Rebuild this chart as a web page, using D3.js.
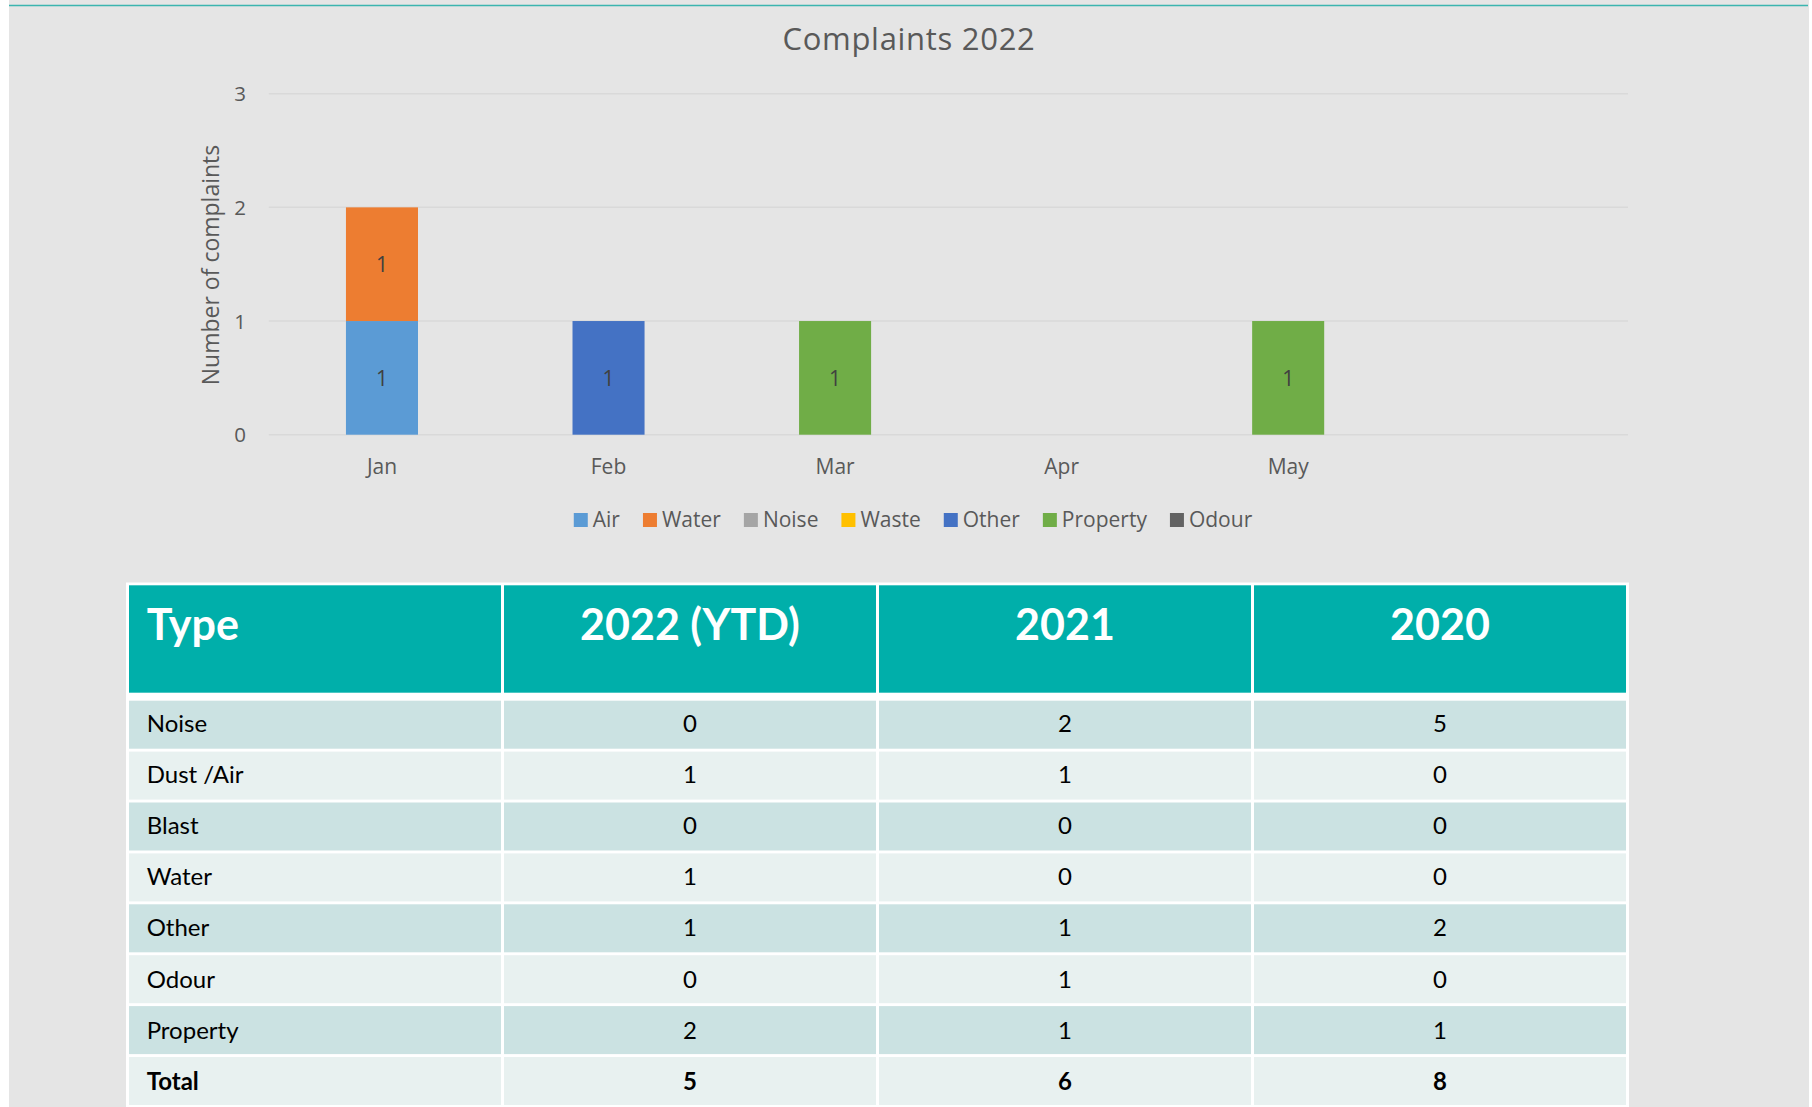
<!DOCTYPE html>
<html>
<head>
<meta charset="utf-8">
<script src="https://cdn.jsdelivr.net/npm/d3@7"></script>
<style>
  html, body { margin: 0; padding: 0; background: #fff; }
  svg { display: block; }
</style>
</head>
<body>
<div id="chart"></div>
<script>
'use strict';

// chart data
var months = ['Jan', 'Feb', 'Mar', 'Apr', 'May', ''];
var seriesNames = ['Air', 'Water', 'Noise', 'Waste', 'Other', 'Property', 'Odour'];
var seriesColors = ['#5B9BD5', '#ED7D31', '#A5A5A5', '#FFC000', '#4472C4', '#70AD47', '#636363'];
var air = [1, 0, 0, 0, 0, 0];
var water = [1, 0, 0, 0, 0, 0];
var noise = [0, 0, 0, 0, 0, 0];
var waste = [0, 0, 0, 0, 0, 0];
var other = [0, 1, 0, 0, 0, 0];
var property = [0, 0, 1, 0, 1, 0];
var odour = [0, 0, 0, 0, 0, 0];
var yTicks = [0, 1, 2, 3];

// table data
var tableHeaders = ['Type', '2022 (YTD)', '2021', '2020'];
var tableTypes = ['Noise', 'Dust /Air', 'Blast', 'Water', 'Other', 'Odour', 'Property', 'Total'];
var ytd2022 = [0, 1, 0, 1, 1, 0, 2, 5];
var year2021 = [2, 1, 0, 0, 1, 1, 1, 6];
var year2020 = [5, 0, 0, 0, 2, 0, 1, 8];

var W = 1812, H = 1107;
var CHART_FONT = '"Open Sans", "Noto Sans", sans-serif';
var TABLE_FONT = 'Lato, "Open Sans", sans-serif';
var TEXT = '#595959';

var svg = d3.select('#chart').append('svg')
    .attr('width', W)
    .attr('height', H);

// page background
svg.append('rect')
    .attr('x', 9).attr('y', 0)
    .attr('width', 1800).attr('height', H)
    .attr('fill', '#E5E5E5');

svg.append('line')
    .attr('x1', 9).attr('x2', 1808)
    .attr('y1', 5.5).attr('y2', 5.5)
    .attr('stroke', '#3BB5AF')
    .attr('stroke-width', 1.5);

// ---- chart ----
var plot = {l: 268.7, r: 1628, t: 93.7, b: 434.7};

var x = d3.scaleBand()
    .domain(d3.range(months.length))
    .range([plot.l, plot.r])
    .paddingInner(0.682)
    .paddingOuter(0.341);

var y = d3.scaleLinear()
    .domain([0, 3])
    .range([plot.b, plot.t]);

svg.append('text')
    .attr('x', 909).attr('y', 50)
    .attr('text-anchor', 'middle')
    .attr('font-family', CHART_FONT)
    .attr('font-size', 31)
    .attr('letter-spacing', 0.7)
    .attr('fill', TEXT)
    .text('Complaints 2022');

// gridlines
svg.append('g').selectAll('line')
    .data(yTicks)
    .join('line')
    .attr('x1', plot.l).attr('x2', plot.r)
    .attr('y1', function(d) { return y(d); })
    .attr('y2', function(d) { return y(d); })
    .attr('stroke', '#D9D9D9')
    .attr('stroke-width', 1.5);

// y tick labels
svg.append('g').selectAll('text')
    .data(yTicks)
    .join('text')
    .attr('x', 246)
    .attr('y', function(d) { return y(d) + 7.5; })
    .attr('text-anchor', 'end')
    .attr('font-family', CHART_FONT)
    .attr('font-size', 20.5)
    .attr('fill', TEXT)
    .text(function(d) { return d; });

svg.append('text')
    .attr('transform', 'translate(219,265) rotate(-90)')
    .attr('text-anchor', 'middle')
    .attr('font-family', CHART_FONT)
    .attr('font-size', 23)
    .attr('fill', TEXT)
    .text('Number of complaints');

// month labels
svg.append('g').selectAll('text')
    .data(months)
    .join('text')
    .attr('x', function(d, i) { return x(i) + x.bandwidth() / 2; })
    .attr('y', 473.5)
    .attr('text-anchor', 'middle')
    .attr('font-family', CHART_FONT)
    .attr('font-size', 21)
    .attr('fill', TEXT)
    .text(function(d) { return d; });

// stacked bars
var seriesValues = [air, water, noise, waste, other, property, odour];
var rows = months.map(function(m, i) {
    var row = {idx: i};
    seriesNames.forEach(function(s, k) { row[s] = seriesValues[k][i]; });
    return row;
});
var stacked = d3.stack().keys(seriesNames)(rows);

var layers = svg.append('g').selectAll('g')
    .data(stacked)
    .join('g')
    .attr('fill', function(d, k) { return seriesColors[k]; });

layers.selectAll('rect')
    .data(function(d) { return d.filter(function(p) { return p[1] > p[0]; }); })
    .join('rect')
    .attr('x', function(p) { return x(p.data.idx); })
    .attr('width', x.bandwidth())
    .attr('y', function(p) { return y(p[1]); })
    .attr('height', function(p) { return y(p[0]) - y(p[1]); });

layers.selectAll('text')
    .data(function(d) { return d.filter(function(p) { return p[1] > p[0]; }); })
    .join('text')
    .attr('x', function(p) { return x(p.data.idx) + x.bandwidth() / 2; })
    .attr('y', function(p) { return (y(p[0]) + y(p[1])) / 2 + 8; })
    .attr('text-anchor', 'middle')
    .attr('font-family', CHART_FONT)
    .attr('font-size', 21)
    .attr('fill', '#404040')
    .text(function(p) { return p[1] - p[0]; });

// legend
var legend = svg.append('g');
var items = legend.selectAll('g')
    .data(seriesNames)
    .join('g');
items.append('rect')
    .attr('y', 513).attr('width', 14).attr('height', 14)
    .attr('fill', function(d, k) { return seriesColors[k]; });
items.append('text')
    .attr('x', 19).attr('y', 527)
    .attr('font-family', CHART_FONT)
    .attr('font-size', 21)
    .attr('fill', TEXT)
    .text(function(d) { return d; });

var lx = 0;
var offsets = [];
items.each(function() {
    offsets.push(lx);
    lx += 19 + d3.select(this).select('text').node().getComputedTextLength() + 23;
});
var legendW = lx - 23;
var legendX = 913 - legendW / 2;
items.attr('transform', function(d, k) { return 'translate(' + (legendX + offsets[k]) + ',0)'; });

// ---- table ----
var colX = [129, 504, 879, 1254];
var colW = 372;
var headTop = 585.3, headH = 107.4;
var rowTop = 700.7, rowPitch = 50.9, rowH = 48;
var tableCols = [tableTypes, ytd2022, year2021, year2020];

svg.append('rect')
    .attr('x', 126).attr('y', 582.5)
    .attr('width', 1503).attr('height', H - 582.5)
    .attr('fill', '#fff');

svg.append('g').selectAll('rect')
    .data(tableHeaders)
    .join('rect')
    .attr('x', function(d, c) { return colX[c]; })
    .attr('y', headTop)
    .attr('width', colW).attr('height', headH)
    .attr('fill', '#00AFAA');

svg.append('g').selectAll('text')
    .data(tableHeaders)
    .join('text')
    .attr('x', function(d, c) { return c === 0 ? 146.7 : colX[c] + colW / 2; })
    .attr('y', headTop + 54.5)
    .attr('text-anchor', function(d, c) { return c === 0 ? 'start' : 'middle'; })
    .attr('font-family', TABLE_FONT)
    .attr('font-weight', 700)
    .attr('font-size', 43)
    .attr('fill', '#fff')
    .text(function(d) { return d; });

var bodyRows = svg.append('g').selectAll('g')
    .data(tableTypes)
    .join('g')
    .attr('transform', function(d, r) { return 'translate(0,' + (rowTop + r * rowPitch) + ')'; });

bodyRows.selectAll('rect')
    .data(colX)
    .join('rect')
    .attr('x', function(d) { return d; })
    .attr('width', colW).attr('height', rowH)
    .attr('fill', function() {
        var r = tableTypes.indexOf(d3.select(this.parentNode).datum());
        return r % 2 === 0 ? '#CBE2E2' : '#E8F1F0';
    });

bodyRows.selectAll('text')
    .data(function(d, r) { return tableCols.map(function(col) { return {v: col[r], r: r}; }); })
    .join('text')
    .attr('x', function(d, c) { return c === 0 ? 146.7 : colX[c] + colW / 2; })
    .attr('y', function(d) { return 31 + d.r * 0.3; })
    .attr('text-anchor', function(d, c) { return c === 0 ? 'start' : 'middle'; })
    .attr('font-family', TABLE_FONT)
    .attr('font-weight', function(d) { return d.r === tableTypes.length - 1 ? 700 : 400; })
    .attr('font-size', 24)
    .attr('fill', '#000')
    .text(function(d) { return d.v; });
</script>
</body>
</html>
